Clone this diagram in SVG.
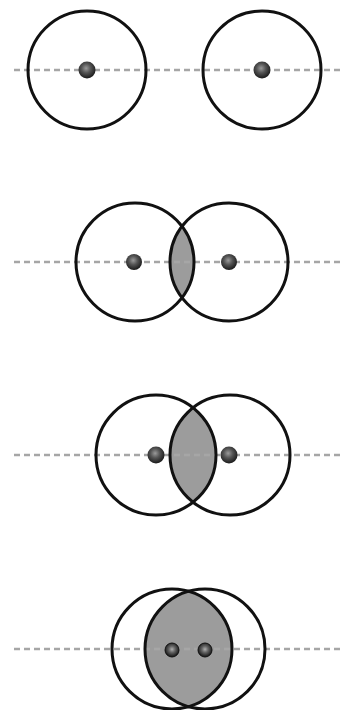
<svg xmlns="http://www.w3.org/2000/svg" width="344" height="710" viewBox="0 0 344 710">
  <defs>
    <radialGradient id="nuc" cx="0.45" cy="0.4" r="0.6">
      <stop offset="0" stop-color="#9a9a9a"/>
      <stop offset="0.45" stop-color="#555"/>
      <stop offset="1" stop-color="#1a1a1a"/>
    </radialGradient>
    <radialGradient id="nuc2" cx="0.5" cy="0.45" r="0.55">
      <stop offset="0" stop-color="#b0b0b0"/>
      <stop offset="0.4" stop-color="#666"/>
      <stop offset="1" stop-color="#111"/>
    </radialGradient>
  </defs>
  <style>
    .orb { fill: none; stroke: #111; stroke-width: 3; }
    .lens { fill: #9c9c9c; stroke: none; }
    .axis { stroke: #a6a6a6; stroke-width: 2.5; stroke-dasharray: 6 4; fill: none; }
    .nuc { fill: url(#nuc); }
    .nuc2 { fill: url(#nuc2); stroke: #111; stroke-width: 1; }
  </style>
  <rect width="344" height="710" fill="#ffffff"/>

  <g id="overlaps">
    <path id="r2-overlap" class="lens" d="M182,227 A59,59 0 0 1 182,297 A59,59 0 0 1 182,227 Z"/>
    <path id="r3-overlap" class="lens" d="M193,408 A60,60 0 0 1 193,502 A60,60 0 0 1 193,408 Z"/>
    <path id="r4-overlap" class="lens" d="M188.5,591.3 A60,60 0 0 1 188.5,706.7 A60,60 0 0 1 188.5,591.3 Z"/>
  </g>

  <g id="connectors">
    <line class="axis" x1="14" y1="70" x2="344" y2="70"/>
    <line class="axis" x1="14" y1="262" x2="340" y2="262"/>
    <line class="axis" x1="14" y1="455" x2="340" y2="455"/>
    <line class="axis" x1="14" y1="649" x2="340" y2="649"/>
  </g>

  <g id="row1">
    <g id="r1-left">
      <circle class="orb" cx="87" cy="70" r="59"/>
      <circle class="nuc" cx="87" cy="70" r="8.5"/>
    </g>
    <g id="r1-right">
      <circle class="orb" cx="262" cy="70" r="59"/>
      <circle class="nuc" cx="262" cy="70" r="8.5"/>
    </g>
  </g>

  <g id="row2">
    <g id="r2-left">
      <circle class="orb" cx="135" cy="262" r="59"/>
      <circle class="nuc" cx="134" cy="262" r="8"/>
    </g>
    <g id="r2-right">
      <circle class="orb" cx="229" cy="262" r="59"/>
      <circle class="nuc" cx="229" cy="262" r="8"/>
    </g>
  </g>

  <g id="row3">
    <g id="r3-left">
      <circle class="orb" cx="156" cy="455" r="60"/>
      <circle class="nuc" cx="156" cy="455" r="8.5"/>
    </g>
    <g id="r3-right">
      <circle class="orb" cx="230" cy="455" r="60"/>
      <circle class="nuc" cx="229" cy="455" r="8.5"/>
    </g>
  </g>

  <g id="row4">
    <g id="r4-left">
      <circle class="orb" cx="172" cy="649" r="60"/>
      <circle class="nuc2" cx="172" cy="650" r="7"/>
    </g>
    <g id="r4-right">
      <circle class="orb" cx="205" cy="649" r="60"/>
      <circle class="nuc2" cx="205" cy="650" r="7"/>
    </g>
  </g>
</svg>
